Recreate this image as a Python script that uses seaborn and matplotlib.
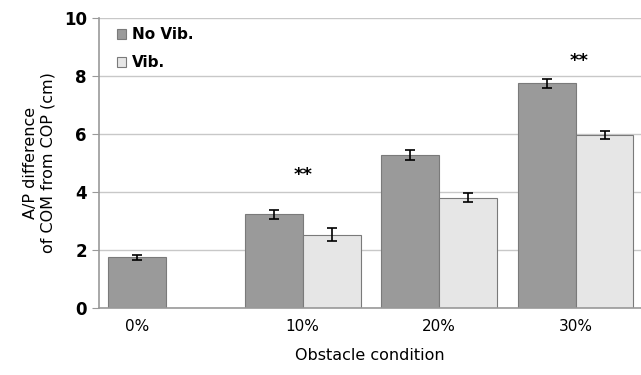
import numpy as np
import pandas as pd
import matplotlib.pyplot as plt
import seaborn as sns

# values
conditions = ["0%", "10%", "20%", "30%"]
no_vib = [1.75, 3.23, 5.27, 7.75]
no_vib_err = [0.09, 0.16, 0.16, 0.15]
vib = [np.nan, 2.52, 3.80, 5.96]
vib_err = [np.nan, 0.22, 0.15, 0.14]
groups = ["No Vib.", "Vib."]

df = pd.DataFrame({
    "cond": conditions * 2,
    "group": [groups[0]] * 4 + [groups[1]] * 4,
    "value": no_vib + vib,
    "err": no_vib_err + vib_err,
})
df = df.dropna().reset_index(drop=True)

sns.set_style("white")
plt.rcParams["font.family"] = ["DejaVu Sans"]
plt.rcParams["text.color"] = "black"
plt.rcParams["axes.labelcolor"] = "black"
plt.rcParams["xtick.color"] = "black"
plt.rcParams["ytick.color"] = "black"

fig = plt.figure(figsize=(6.41, 3.75), dpi=100)
ax = fig.add_axes([0.155, 0.179, 0.845, 0.773])

palette = {"No Vib.": "#9a9a9a", "Vib.": "#e6e6e6"}
sns.barplot(data=df, x="cond", y="value", hue="group", order=conditions,
            hue_order=groups, palette=palette, width=0.85, errorbar=None,
            edgecolor="#7a7a7a", linewidth=0.8, saturation=1, ax=ax, zorder=2)

# error bars at the bar centres seaborn placed
for cont, g in zip(ax.containers, groups):
    sub = df[df["group"] == g]
    xs = [b.get_x() + b.get_width() / 2 for b in cont]
    ax.errorbar(xs, sub["value"], yerr=sub["err"], fmt="none", ecolor="black",
                elinewidth=1.2, capsize=3.5, capthick=1.2, zorder=3)

# significance marks
ax.text(1.0, 4.6, "**", ha="center", va="center", fontsize=13, fontweight="bold")
ax.text(3.03, 8.5, "**", ha="center", va="center", fontsize=13, fontweight="bold")

ax.set_ylim(0, 10)
ax.set_xlim(-0.49, 3.48)
ax.set_yticks([0, 2, 4, 6, 8, 10])
ax.set_yticklabels(["0", "2", "4", "6", "8", "10"], fontsize=12, fontweight="bold")
# the 0% label sits under its single bar
ax.set_xticks([-0.2125, 1, 2, 3])
ax.set_xticklabels(conditions, fontsize=11)
ax.tick_params(axis="x", length=0, pad=8, labelcolor="black")
ax.tick_params(axis="y", length=5, color="#999999", direction="out", left=True,
               pad=4, labelcolor="black")
ax.yaxis.grid(True, color="#c8c8c8", linewidth=1, zorder=0)
ax.set_axisbelow(True)

for s in ["top", "right"]:
    ax.spines[s].set_visible(False)
ax.spines["left"].set_color("#999999")
ax.spines["bottom"].set_color("#999999")
ax.spines["left"].set_linewidth(1.2)
ax.spines["bottom"].set_linewidth(1.2)

ax.set_xlabel("Obstacle condition", fontsize=11.5, labelpad=10, color="black")
ax.set_ylabel("A/P difference\nof COM from COP (cm)", fontsize=11.5, labelpad=6,
              color="black")

leg = ax.legend(loc="upper left", frameon=False, prop={"weight": "bold", "size": 11},
                handlelength=0.6, handleheight=0.6, handletextpad=0.4,
                labelspacing=0.85, borderaxespad=0.2, bbox_to_anchor=(0.015, 1.0))

fig.savefig("out.png", dpi=100)
